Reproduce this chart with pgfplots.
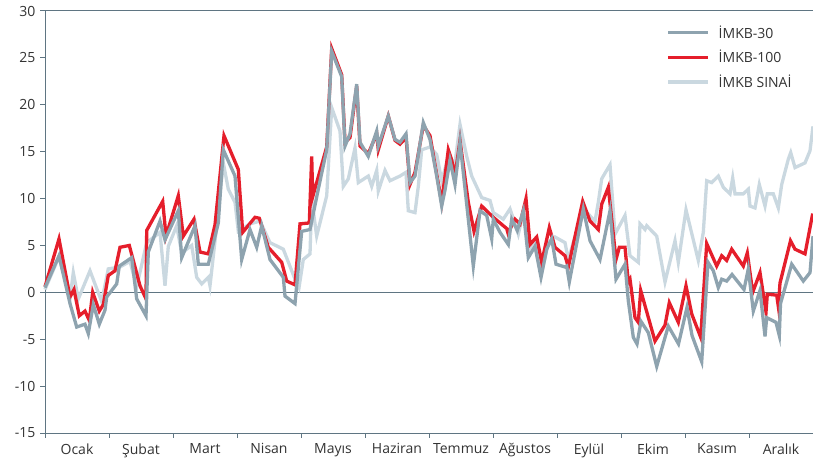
\documentclass[border=0pt]{standalone}
\usepackage{fontspec}
\setmainfont{Open Sans}
\usepackage{pgfplots}
\pgfplotsset{compat=1.18}
\definecolor{axiscol}{HTML}{5F7582}
\definecolor{imkbthirty}{HTML}{8EA3AF}
\definecolor{imkbhundred}{HTML}{E51E2B}
\definecolor{imkbsinai}{HTML}{CAD8E0}
\definecolor{txt}{HTML}{333333}
\begin{document}
\begin{tikzpicture}
\begin{axis}[
  name=ax,
  scale only axis,
  width=768pt, height=422pt,
  xmin=45, xmax=813, ymin=-15, ymax=30,
  ytick={-15,-10,...,30},
  xtick={77,141,205,269,333,397,461,525,589,653,717,781},
  xticklabels={Ocak,Şubat,Mart,Nisan,Mayıs,Haziran,Temmuz,Ağustos,Eylül,Ekim,Kasım,Aralık},
  minor xtick={45,109,173,237,301,365,429,493,557,621,685,749,813},
  major x tick style={draw=none},
  tick align=outside,
  major tick length=5pt, minor tick length=5pt,
  tick style={axiscol, line width=1pt},
  axis line style={draw=none},
  xtick pos=bottom, ytick pos=left,
  ticklabel style={font=\fontsize{14}{16}\selectfont, text=txt},
  /pgf/number format/assume math mode=true,
  xticklabel style={yshift=-2pt},
  yticklabel style={xshift=-1pt},
  clip=false,
  reverse legend,
  legend style={draw=none, fill=none, at={(rel axis cs:0.805,0.975)}, anchor=north west,
    font=\fontsize{14}{16}\selectfont, text=txt, row sep=6.5pt},
  legend cell align=left,
  legend image code/.code={\draw[#1] (0pt,0pt) -- (40pt,0pt); \path (47pt,0pt);},
]
\draw[axiscol, line width=1pt] (rel axis cs:0,1) -- (rel axis cs:0,0) -- (rel axis cs:1,0);
\draw[axiscol, line width=1pt] (rel axis cs:0,1) -- (rel axis cs:1,1);
\addplot[axiscol, line width=1pt, forget plot] coordinates {(45,0) (813,0)};
% IMKB SINAI
\addplot[imkbsinai, line width=3.3pt] coordinates {
(45,0.3) (59,3.8) (70,-0.7) (73.3,2.1) (78.3,-0.7) (90,2.3) (101.7,-1.0) (108.3,2.5) (120,2.7) (130,3.3) (136.7,0.6) (146.7,5.3) (160,6.4) (165,0.7) (168.3,4.9) (176.7,7.1) (181.7,4.2) (191.7,5.0) (196.7,1.6) (201.7,0.9) (208.3,1.6) (210,0.7) (216.7,7.1) (223.3,13.8) (228.3,11) (235,9.6) (238.3,6.5) (250,7.3) (260,7.6) (270,5.3) (283.3,4.6) (295,1.4) (299,0.5) (303.3,3.5) (310,4.1) (311.7,9.9) (316.7,6.0) (326.7,10.3) (331.7,19.7) (340,17.2) (343.3,11.3) (348.3,12.1) (355,15.4) (358.3,11.7) (368.3,12.4) (371.7,11.3) (376.7,13) (378.3,10.8) (385,13) (390,11.9) (400,12.4) (406,12.8) (408.3,8.7) (415,8.5) (418.3,11.3) (421.7,15.2) (430,15.5) (436.7,14.7) (441.7,11.9) (448.3,14.4) (455,13.8) (460,17.9) (466.7,14.5) (471.7,12.4) (481.7,10.1) (490,9.8) (493.3,8.5) (503.3,7.8) (510,8.9) (518.3,6.2) (523.3,8.5) (530,4.3) (536.7,5.7) (541.7,2.1) (548.3,5.3) (555,5.9) (565,5.3) (568.3,3.5) (583.3,8.9) (595,7.6) (598.3,9.6) (601.7,12.1) (603.3,12.4) (610,13.6) (615,6.2) (625,8.2) (630,3.9) (638.3,3.2) (640,7.3) (645,6.7) (646.7,7.1) (656.7,6.0) (665,1.1) (675,5.5) (678.3,3.2) (686,8.8) (698.3,3.4) (703.3,6.4) (706.7,11.9) (711.7,11.7) (718.3,12.4) (723.3,11.2) (730,10.5) (732.7,12.2) (735,10.5) (743.3,10.5) (748.3,11) (750,9.2) (755,9.0) (759.3,11.5) (765,9.2) (767.3,10.5) (773.3,10.5) (778.3,9.0) (781.7,11.5) (788.3,14.2) (790.7,14.9) (795,13.3) (805,13.8) (810,15.1) (813,17.7)
};
\addlegendentry{İMKB SINAİ}
% IMKB-100
\addplot[imkbhundred, line width=3.3pt] coordinates {
(45,0.6) (59,5.7) (70,-0.5) (74,0.3) (79.3,-2.5) (85,-2.0) (89.3,-3.0) (92.7,0) (99.3,-2.0) (103.3,-1.3) (108.3,1.8) (115,2.3) (120,4.8) (129.3,5.0) (140,0.7) (146,-0.7) (146.7,6.6) (162.7,9.7) (166,6.0) (178.3,10.3) (183.3,6.0) (194,7.8) (200,4.3) (208.3,4.1) (215,7.2) (224,16.7) (238.3,13.1) (242.7,6.4) (255,8.0) (259.3,7.9) (268.3,4.8) (281.7,3.2) (286.7,1.2) (295,0.8) (300,7.3) (309.3,7.4) (311.7,14.5) (312.7,10.2) (326.7,15.5) (331.7,26.0) (341.7,23.2) (345,16.0) (350,16.5) (356.7,22.0) (360,15.6) (368.3,14.8) (376.7,16.9) (378.3,15.2) (388.3,18.8) (395,16.2) (400,15.8) (406,16.5) (410,11.5) (415,12.8) (423.3,17.8) (430,16.7) (436.7,12.6) (441.7,9.6) (448.3,15.2) (451.7,14.1) (455,12.4) (460,16.2) (468.3,9.6) (474,6.5) (481.7,9.2) (493.3,8.0) (506.7,6.8) (508,6.3) (515,7.8) (520,7.3) (526,10) (530,5.1) (536.7,5.9) (541.7,3.2) (549.3,6.9) (555,4.8) (565,3.9) (568.3,2.7) (582.7,9.7) (590,7.6) (598.3,6.7) (601.7,9.4) (608.3,11.2) (616,3.5) (619.3,4.8) (625,4.8) (628.3,1.1) (630,1.4) (635,-2.7) (638.3,-3.2) (640.7,0.2) (655,-5.2) (665,-3.5) (669.3,-1.1) (678.3,-3.2) (686,0.7) (691.7,-2.3) (700.7,-4.8) (706.7,5.2) (716.7,2.8) (721.7,3.9) (726.7,3.4) (731.7,4.6) (743.3,2.8) (747.3,4.2) (752.7,0) (760,2.1) (766,-2.1) (767.3,-0.2) (776.7,-0.3) (778.3,-1.5) (780,1.0) (790.5,5.5) (795,4.6) (805,4.1) (812.7,8.4)
};
\addlegendentry{İMKB-100}
% IMKB-30
\addplot[imkbthirty, line width=3.3pt] coordinates {
(45,0.5) (59,3.9) (70,-1.2) (76.7,-3.7) (85,-3.4) (88.3,-4.4) (93.3,-1.3) (99.3,-3.4) (105,-1.9) (106.7,-0.5) (116.7,0.9) (119.3,2.8) (131.7,3.7) (136.7,-0.7) (146,-2.5) (148.3,4.3) (160,7.6) (165,5.6) (178.3,8.7) (181.7,3.7) (195,7.1) (198.3,3.0) (208.3,3.0) (218.3,7.4) (223.3,15.2) (235,12.4) (241.7,3.5) (250,6.7) (256.7,4.8) (261.7,7.1) (270,3.5) (283.3,1.6) (285,-0.4) (295,-1.2) (301.7,6.5) (310,6.7) (318.3,11) (326.7,15.2) (331.7,25.7) (341.7,23.0) (345,15.6) (350,16.9) (356.7,22.2) (360,16.0) (368.3,14.5) (376.7,17.2) (378.3,15.6) (388.3,18.8) (395,16.3) (400,16) (406,16.9) (410,11.7) (415,12.4) (423.3,18.1) (430,16.3) (436.7,12.4) (441.7,9.2) (445,10.9) (450,14.1) (455,11.5) (460,16) (468.3,7.8) (473.3,2.8) (480,8.7) (486.7,8.2) (491.7,5.7) (493.3,7.8) (500,6.4) (508.3,5.1) (511.7,7.8) (517.3,6.6) (523.3,8.7) (528.3,3.7) (535,4.9) (541,1.6) (546.7,4.6) (551.7,5.7) (556,3.0) (565,2.7) (566.7,2.8) (569.3,1.1) (583.3,8.9) (590,5.5) (600,3.5) (610,8.7) (616,1.4) (625,3.0) (628.3,-0.9) (633.3,-4.8) (637,-5.5) (641,-3.1) (648.3,-4.3) (656.7,-7.9) (668.3,-3.6) (678.5,-5.5) (687,-1.6) (692,-4.6) (701.7,-7.4) (708,3.2) (713.3,2.3) (718.3,0.5) (721.7,1.4) (726.7,1.2) (732,1.9) (744,0.3) (748.3,2.5) (753.3,-2.0) (760,0.2) (765,-4.7) (766.7,-2.7) (776,-3.2) (779.3,-4.6) (780.5,-1.2) (791.7,3.0) (803.3,1.2) (810,2.1) (813,6.0)
};
\addlegendentry{İMKB-30}
\end{axis}
\pgfresetboundingbox
\path[use as bounding box] ([shift={(-45pt,-35pt)}]ax.south west) rectangle ([shift={(0pt,11pt)}]ax.north east);
\end{tikzpicture}
\end{document}
